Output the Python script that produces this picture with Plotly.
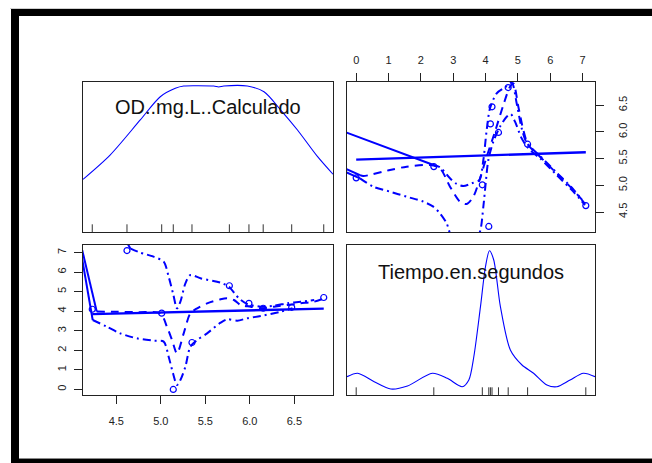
import plotly.graph_objects as go

W, H = 652, 463

# ---------------- data ----------------
od = [4.23, 4.62, 5.01, 5.14, 5.35, 5.77, 5.99, 6.15, 6.47, 6.83]
tiempo = [4.1, 7.1, 3.9, 0.0, 2.4, 5.3, 4.4, 4.15, 4.2, 4.7]

# density of OD (top-left), relative height 0..1
dens_od_x = [4.126, 4.43, 4.769, 4.994, 5.163, 5.257, 5.42, 5.595, 5.651, 5.708,
             5.972, 6.159, 6.347, 6.535, 6.761, 6.934]
dens_od_y = [0.351, 0.513, 0.747, 0.902, 0.958, 0.973, 0.975, 0.973, 0.967, 0.973,
             0.973, 0.935, 0.813, 0.680, 0.502, 0.385]

# density of Tiempo (bottom-right), relative height 0..1
dens_t_x = [-0.284, 0.046, 0.557, 1.071, 1.586, 2.355, 2.817, 3.279, 3.483, 3.637,
            3.843, 3.997, 4.12, 4.253, 4.459, 4.767, 5.127, 5.485, 5.897, 6.205,
            6.615, 7.025, 7.384]
dens_t_y = [0.122, 0.145, 0.089, 0.040, 0.060, 0.145, 0.111, 0.055, 0.100, 0.255,
            0.589, 0.855, 0.962, 0.900, 0.589, 0.300, 0.200, 0.145, 0.067, 0.055,
            0.100, 0.145, 0.122]

# top-right panel: OD (y) against Tiempo (x)
lm_tr_t = [0.0, 7.1]
lm_tr_od = [5.48, 5.62]
sm_tr_t = [0.118, 0.221, 1.046, 1.561, 2.283, 2.592, 2.901, 3.210, 3.416, 3.622,
           3.829, 4.035, 4.292, 4.550, 4.756, 4.859, 5.014, 5.168, 5.323, 5.684,
           6.199, 6.714, 7.075]
sm_tr_od = [5.19, 5.174, 5.287, 5.349, 5.380, 5.318, 4.975, 4.694, 4.650, 4.787,
            5.131, 5.536, 6.004, 6.503, 6.846, 6.909, 6.472, 6.035, 5.755, 5.536,
            5.224, 4.912, 4.663]
up_tr_t = [2.35, 2.592, 2.901, 3.107, 3.313, 3.571, 3.808, 3.932, 4.035, 4.138,
           4.344, 4.602, 4.808, 4.962, 5.117, 5.272, 5.684, 6.199, 6.714, 7.075]
up_tr_od = [5.39, 5.337, 5.131, 5.025, 4.987, 5.037, 5.099, 5.474, 6.035, 6.441,
            6.722, 6.834, 6.921, 6.535, 6.067, 5.798, 5.549, 5.237, 4.925, 4.650]
lo_tr_t = [0.118, 0.530, 1.046, 1.561, 2.076, 2.385, 2.592, 2.798, 2.932, 3.30,
           3.726, 3.829, 3.932, 4.004, 4.086, 4.241, 4.447, 4.653, 4.777, 4.911,
           5.117, 5.323, 5.684, 6.199, 6.714, 7.075]
lo_tr_od = [5.131, 4.975, 4.881, 4.787, 4.694, 4.600, 4.475, 4.288, 4.039, 3.60,
            4.039, 4.132, 4.600, 5.037, 5.474, 5.817, 6.098, 6.285, 6.335, 6.191,
            5.879, 5.692, 5.505, 5.193, 4.881, 4.631]
# solid joining strokes entering from the panel edge
jn_tr_t = [[-0.40, 2.35], [-0.40, 0.118], [-0.40, 0.118]]
jn_tr_od = [[6.01, 5.39], [5.33, 5.19], [5.27, 5.131]]

# bottom-left panel: Tiempo (y) against OD (x)
lm_bl_od = [4.23, 6.83]
lm_bl_t = [3.85, 4.13]
sm_bl_od = [4.28, 4.45, 4.75, 4.994, 5.069, 5.126, 5.182, 5.257, 5.332, 5.408,
            5.520, 5.671, 5.746, 5.821, 5.896, 6.009, 6.122, 6.272, 6.422, 6.572,
            6.723, 6.83]
sm_bl_t = [3.98, 3.97, 3.95, 3.891, 3.209, 2.528, 1.846, 2.869, 3.891, 4.147,
           4.403, 4.607, 4.658, 4.573, 4.317, 4.232, 4.147, 4.232, 4.317, 4.403,
           4.488, 4.65]
up_bl_od = [4.656, 4.769, 4.919, 5.032, 5.088, 5.137, 5.182, 5.220, 5.276, 5.332,
            5.445, 5.671, 5.764, 5.877, 5.971, 6.122, 6.272, 6.422, 6.572, 6.723]
up_bl_t = [7.214, 6.993, 6.788, 6.533, 5.766, 4.914, 4.147, 4.488, 5.425, 5.851,
           5.681, 5.459, 5.254, 4.658, 4.368, 4.232, 4.283, 4.403, 4.488, 4.573]
lo_bl_od = [4.235, 4.393, 4.543, 4.731, 4.919, 5.032, 5.088, 5.137, 5.182, 5.220,
            5.276, 5.332, 5.408, 5.520, 5.671, 5.746, 5.859, 5.971, 6.122, 6.347,
            6.479]
lo_bl_t = [3.550, 3.209, 2.869, 2.613, 2.494, 2.443, 1.676, 0.824, 0.227, 0.483,
           1.164, 2.187, 2.528, 2.869, 3.414, 3.585, 3.516, 3.636, 3.755, 3.976,
           4.147]
jn_bl_od = [[4.10, 4.28], [4.10, 4.235], [4.61, 4.656]]
jn_bl_t = [[7.45, 3.98], [7.10, 3.550], [7.60, 7.214]]

title_od = "OD..mg.L..Calculado"
title_t = "Tiempo.en.segundos"
t_ticks = [0, 1, 2, 3, 4, 5, 6, 7]
od_ticks = [4.5, 5.0, 5.5, 6.0, 6.5]
od_ticktext = ["4.5", "5.0", "5.5", "6.0", "6.5"]

# ---------------- figure ----------------
BLUE = "#0000FF"
FONT = "Liberation Sans, Arial, sans-serif"


def ext(v):
    lo, hi = min(v), max(v)
    p = 0.04 * (hi - lo)
    return [lo - p, hi + p]


od_rng = ext(od)
t_rng = ext(tiempo)

# panel boxes in pixels (left, right, top, bottom)
P = {1: (83, 333, 82, 232), 2: (347, 595, 82, 232),
     3: (83, 333, 245, 395), 4: (347, 595, 245, 395)}


def dx(p):
    return [p[0] / W, p[1] / W]


def dy(p):
    return [1 - p[3] / H, 1 - p[2] / H]


fig = go.Figure()


def add_line(x, y, ax, dash="solid", width=2.0, color=BLUE, shape="spline"):
    fig.add_trace(go.Scatter(x=x, y=y, mode="lines", xaxis="x" + ax, yaxis="y" + ax,
                             line=dict(color=color, width=width, dash=dash, shape=shape,
                                       smoothing=0.8 if shape == "spline" else None),
                             hoverinfo="skip", showlegend=False))


DASH = "8px,6px"
DASHDOT = "8px,4px,2px,4px"

# top-left density
add_line(dens_od_x, dens_od_y, "", width=1.1)
fig.add_trace(go.Scatter(x=od, y=[0] * len(od), mode="markers", xaxis="x", yaxis="y",
                         marker=dict(symbol="line-ns", size=11, line=dict(color="#333", width=1)),
                         cliponaxis=True, hoverinfo="skip", showlegend=False))

# top-right scatter
add_line(lm_tr_t, lm_tr_od, "2", width=2.4, shape="linear")
for xs, ys in zip(jn_tr_t, jn_tr_od):
    add_line(xs, ys, "2", width=2.0, shape="linear")
add_line(sm_tr_t, sm_tr_od, "2", dash=DASH, width=2.0)
add_line(up_tr_t, up_tr_od, "2", dash=DASHDOT, width=2.0)
add_line(lo_tr_t, lo_tr_od, "2", dash=DASHDOT, width=2.0)
fig.add_trace(go.Scatter(x=tiempo, y=od, mode="markers", xaxis="x2", yaxis="y2",
                         marker=dict(symbol="circle-open", size=6, color=BLUE,
                                     line=dict(color=BLUE, width=1.2)),
                         hoverinfo="skip", showlegend=False))

# bottom-left scatter
add_line(lm_bl_od, lm_bl_t, "3", width=2.4, shape="linear")
for xs, ys in zip(jn_bl_od, jn_bl_t):
    add_line(xs, ys, "3", width=2.0, shape="linear")
add_line(sm_bl_od, sm_bl_t, "3", dash=DASH, width=2.0)
add_line(up_bl_od, up_bl_t, "3", dash=DASHDOT, width=2.0)
add_line(lo_bl_od, lo_bl_t, "3", dash=DASHDOT, width=2.0)
fig.add_trace(go.Scatter(x=od, y=tiempo, mode="markers", xaxis="x3", yaxis="y3",
                         marker=dict(symbol="circle-open", size=6, color=BLUE,
                                     line=dict(color=BLUE, width=1.2)),
                         hoverinfo="skip", showlegend=False))

# bottom-right density
add_line(dens_t_x, dens_t_y, "4", width=1.1)
fig.add_trace(go.Scatter(x=tiempo, y=[0] * len(tiempo), mode="markers", xaxis="x4", yaxis="y4",
                         marker=dict(symbol="line-ns", size=11, line=dict(color="#333", width=1)),
                         cliponaxis=True, hoverinfo="skip", showlegend=False))

box = dict(showgrid=False, zeroline=False, showline=True, mirror=True,
           linecolor="#222", linewidth=1)
tickstyle = dict(ticks="outside", ticklen=8, tickcolor="#222", tickwidth=1,
                 tickfont=dict(family=FONT, size=11, color="#222"))
noticks = dict(ticks="", showticklabels=False)

fig.update_layout(
    width=W, height=H, margin=dict(l=0, r=0, t=0, b=0),
    paper_bgcolor="white", plot_bgcolor="white", showlegend=False,
    xaxis=dict(domain=dx(P[1]), range=od_rng, anchor="y", **box, **noticks),
    yaxis=dict(domain=dy(P[1]), range=[0, 1], anchor="x", **box, **noticks),
    xaxis2=dict(domain=dx(P[2]), range=t_rng, anchor="y2", side="top",
                tickvals=t_ticks, ticklabelstandoff=5, **box, **tickstyle),
    yaxis2=dict(domain=dy(P[2]), range=od_rng, anchor="x2", side="right",
                tickvals=od_ticks, ticktext=od_ticktext, tickangle=-90,
                ticklabelstandoff=10, **box, **tickstyle),
    xaxis3=dict(domain=dx(P[3]), range=od_rng, anchor="y3",
                tickvals=od_ticks, ticktext=od_ticktext, ticklabelstandoff=8, **box, **tickstyle),
    yaxis3=dict(domain=dy(P[3]), range=t_rng, anchor="x3",
                tickvals=t_ticks, tickangle=-90, ticklabelstandoff=4, **box, **tickstyle),
    xaxis4=dict(domain=dx(P[4]), range=t_rng, anchor="y4", **box, **noticks),
    yaxis4=dict(domain=dy(P[4]), range=[0, 1], anchor="x4", **box, **noticks),
)

fig.add_annotation(text=title_od, xref="x domain", yref="y domain", x=0.5, y=0.835,
                   xanchor="center", yanchor="middle",
                   showarrow=False, font=dict(family=FONT, size=20, color="#111"))
fig.add_annotation(text=title_t, xref="x4 domain", yref="y4 domain", x=0.5, y=0.822,
                   xanchor="center", yanchor="middle",
                   showarrow=False, font=dict(family=FONT, size=20, color="#111"))


# outer frame of the screenshot
def rect(x0, y0, x1, y1, color):
    fig.add_shape(type="rect", xref="paper", yref="paper", x0=x0 / W, x1=x1 / W,
                  y0=1 - y1 / H, y1=1 - y0 / H, fillcolor=color, line=dict(width=0), layer="above")


rect(10, 8, W, 9, "#cfcfcf")
rect(11, 9, W, 16, "#000000")
rect(11, 9, 19, H, "#000000")
rect(19, 458, W, 459, "#8a8a8a")
rect(11, 459, W, H, "#000000")

fig.write_html("out.html")
